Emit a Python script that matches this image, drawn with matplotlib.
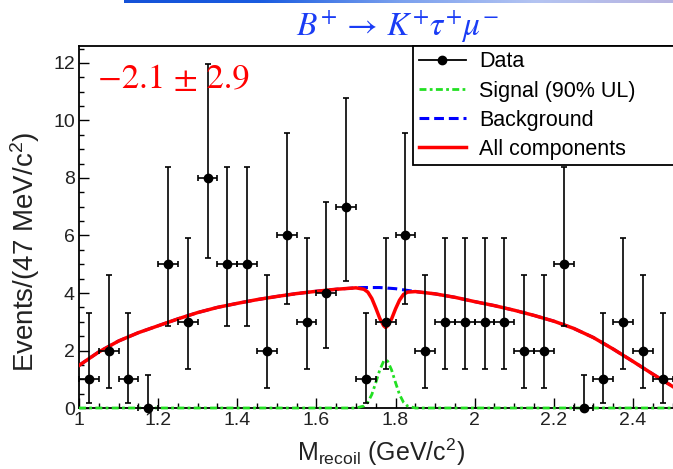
import numpy as np
import matplotlib.pyplot as plt
from matplotlib.lines import Line2D
from matplotlib.colors import LinearSegmentedColormap

plt.rcParams['font.family'] = ['Liberation Sans', 'DejaVu Sans']
plt.rcParams['mathtext.fontset'] = 'custom'
plt.rcParams['mathtext.rm'] = 'Liberation Sans'
plt.rcParams['mathtext.it'] = 'Liberation Sans:italic'

# Data points (bin centres, counts)
bin_centers = [1.025, 1.075, 1.125, 1.175, 1.225, 1.275, 1.325, 1.375, 1.425, 1.475,
               1.525, 1.575, 1.625, 1.675, 1.725, 1.775, 1.825, 1.875, 1.925, 1.975,
               2.025, 2.075, 2.125, 2.175, 2.225, 2.275, 2.325, 2.375, 2.425, 2.475]
counts = [1, 2, 1, 0, 5, 3, 8, 5, 5, 2, 6, 3, 4, 7, 1,
          3, 6, 2, 3, 3, 3, 3, 2, 2, 5, 0, 1, 3, 2, 1]
half_bin = 0.025

# Poisson error bars, indexed by count
poisson_lo = [0.0, 0.83, 1.29, 1.63, 1.91, 2.16, 2.38, 2.58, 2.77]
poisson_hi = [1.15, 2.30, 2.64, 2.92, 3.16, 3.38, 3.58, 3.77, 3.98]

# Fit curves
curve_x = [1.00, 1.05, 1.10, 1.15, 1.20, 1.25, 1.30, 1.35, 1.40, 1.45, 1.50, 1.55, 1.60, 1.65, 1.70,
           1.72, 1.73, 1.74, 1.75, 1.76, 1.77, 1.775, 1.78, 1.79, 1.80, 1.81, 1.82, 1.83, 1.85,
           1.90, 1.95, 2.00, 2.05, 2.10, 2.15, 2.20, 2.25, 2.30, 2.35, 2.40, 2.45, 2.50]
background = [1.48, 1.95, 2.33, 2.62, 2.86, 3.10, 3.32, 3.50, 3.64, 3.77, 3.88, 3.98, 4.06, 4.13, 4.18,
              4.19, 4.19, 4.19, 4.19, 4.19, 4.18, 4.18, 4.17, 4.16, 4.15, 4.13, 4.11, 4.09, 4.05,
              3.97, 3.85, 3.70, 3.56, 3.40, 3.22, 3.02, 2.77, 2.45, 2.05, 1.62, 1.18, 0.75]
signal = [0, 0, 0, 0, 0, 0, 0, 0, 0, 0, 0, 0, 0, 0, 0,
          0.07, 0.20, 0.47, 0.88, 1.32, 1.63, 1.67, 1.63, 1.32, 0.88, 0.47, 0.20, 0.07, 0,
          0, 0, 0, 0, 0, 0, 0, 0, 0, 0, 0, 0, 0]
total = [1.48, 1.95, 2.33, 2.62, 2.86, 3.10, 3.32, 3.50, 3.64, 3.77, 3.88, 3.98, 4.06, 4.13, 4.18,
         4.13, 4.03, 3.81, 3.48, 3.12, 2.86, 2.80, 2.86, 3.10, 3.45, 3.75, 3.95, 4.03, 4.05,
         3.97, 3.85, 3.70, 3.56, 3.40, 3.22, 3.02, 2.77, 2.45, 2.05, 1.62, 1.18, 0.75]

x_ticks = [1.0, 1.2, 1.4, 1.6, 1.8, 2.0, 2.2, 2.4]
x_ticklabels = ['1', '1.2', '1.4', '1.6', '1.8', '2', '2.2', '2.4']
y_ticks = [0, 2, 4, 6, 8, 10, 12]

err_lo = [poisson_lo[n] for n in counts]
err_hi = [poisson_hi[n] for n in counts]

fig = plt.figure(figsize=(6.73, 4.69), dpi=100)

# decorative slide bar at the top
bar = fig.add_axes([124 / 673, 1 - 3 / 469, 549 / 673, 3 / 469])
grad = np.linspace(0, 1, 256)[None, :]
cmap = LinearSegmentedColormap.from_list('bar', ['#1552d8', '#1a5ce0', '#7aa0ee', '#b4c4f2', '#b8b4e0'])
bar.imshow(grad, aspect='auto', cmap=cmap)
bar.axis('off')

px_per_unit = 395.7
ax = fig.add_axes([79 / 673, 1 - 408 / 469, 600 / 673, 362 / 469])
ax.set_xlim(1.0, 1.0 + 600 / px_per_unit)
ax.set_ylim(0, 362 / 28.75)

ax.plot(curve_x, background, color='#0000ff', lw=2.2, ls=(0, (3.2, 1.6)), zorder=2)
ax.plot(curve_x, total, color='#ff0000', lw=2.5, zorder=3)
ax.plot(curve_x, signal, color='#22e022', lw=2.0, ls=(0, (2.5, 1.2, 1.0, 1.2)),
        zorder=4, clip_on=False)

ax.errorbar(bin_centers, counts, xerr=half_bin, yerr=[err_lo, err_hi], fmt='o',
            color='black', ms=6, elinewidth=1.2, capsize=2, capthick=1.2,
            clip_on=False, zorder=5)

ax.set_xticks(x_ticks)
ax.set_xticklabels(x_ticklabels)
ax.set_xticks(np.arange(1.0, 2.51, 0.05), minor=True)
ax.set_yticks(y_ticks)
ax.set_yticks(np.arange(0, 12.6, 0.5), minor=True)
ax.tick_params(which='major', direction='in', length=7, width=1, labelsize=14,
               labelcolor='#222222', pad=3)
ax.tick_params(which='minor', direction='in', length=3.5, width=1)
ax.spines['right'].set_visible(False)
for s in ['left', 'top', 'bottom']:
    ax.spines[s].set_linewidth(1.3)

handles = [Line2D([], [], color='black', marker='o', ms=6, lw=1.3),
           Line2D([], [], color='#22e022', lw=2.0, ls=(0, (2.5, 1.2, 1.0, 1.2))),
           Line2D([], [], color='#0000ff', lw=2.2, ls=(0, (3.2, 1.6))),
           Line2D([], [], color='#ff0000', lw=2.5)]
labels = ['Data', 'Signal (90% UL)', 'Background', 'All components']
leg = ax.legend(handles, labels, loc='upper left', bbox_to_anchor=(0.557, 0.693, 0.6, 0.307),
                mode='expand', borderaxespad=0, fontsize=15.5, handlelength=2.2,
                handletextpad=0.6, labelspacing=0.38, borderpad=0.25, fancybox=False,
                framealpha=1, edgecolor='black')
leg.get_frame().set_linewidth(1.3)

fig.text(25 / 673, 1 - 252 / 469, 'Events/(47 MeV/c$^{2}$)', rotation=90,
         ha='center', va='center', fontsize=20, color='#222222')
fig.text(381 / 673, 1 - 461 / 469, r'M$_{\rm recoil}$ (GeV/c$^{2}$)',
         ha='center', va='baseline', fontsize=18, color='#222222')

fig.text(398 / 673, 1 - 36 / 469, r'$B^{+}\,\rightarrow\, K^{+}\tau^{+}\mu^{-}$',
         color='#1a3cf5', fontsize=24, math_fontfamily='stix', ha='center', va='baseline')
fig.text(98 / 673, 1 - 88 / 469, '\u22122.1 \u00b1 2.9', color='#ff0000', fontsize=25,
         family='STIXGeneral', ha='left', va='baseline')

fig.savefig('out.png', dpi=100)
